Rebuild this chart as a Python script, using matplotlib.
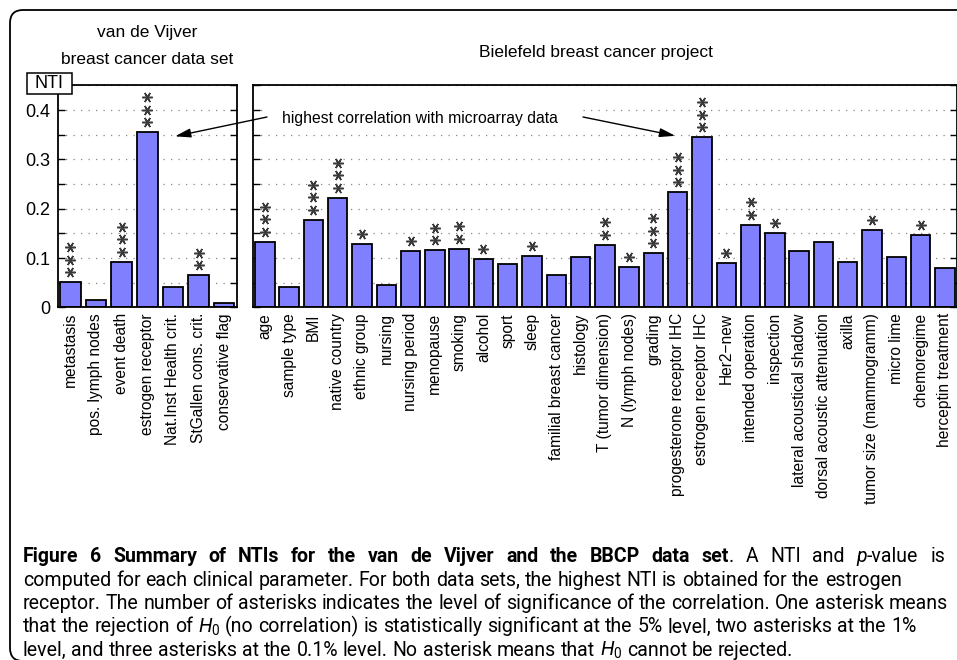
import numpy as np
import matplotlib
matplotlib.use('Agg')
import matplotlib.pyplot as plt
import matplotlib.patches as mpatches
import matplotlib.transforms as mtransforms

plt.rcParams['font.family'] = ['Liberation Sans', 'DejaVu Sans']
plt.rcParams['mathtext.fontset'] = 'custom'
plt.rcParams['mathtext.rm'] = 'Roboto'
plt.rcParams['mathtext.it'] = 'Roboto:italic'
plt.rcParams['mathtext.bf'] = 'Roboto:bold'

# van de Vijver data set
vdv_labels = ['metastasis', 'pos. lymph nodes', 'event death', 'estrogen receptor',
              'Nat.Inst Health crit.', 'StGallen cons. crit.', 'conservative flag']
vdv_nti = [0.051, 0.016, 0.093, 0.355, 0.041, 0.065, 0.010]
vdv_stars = [3, 0, 3, 3, 0, 2, 0]

# Bielefeld breast cancer project
bbcp_labels = ['age', 'sample type', 'BMI', 'native country', 'ethnic group', 'nursing',
               'nursing period', 'menopause', 'smoking', 'alcohol', 'sport', 'sleep',
               'familial breast cancer', 'histology', 'T (tumor dimension)', 'N (lymph nodes)',
               'grading', 'progesterone receptor IHC', 'estrogen receptor IHC', 'Her2\u2212new',
               'intended operation', 'inspection', 'lateral acoustical shadow',
               'dorsal acoustic attenuation', 'axilla', 'tumor size (mammogramm)', 'micro lime',
               'chemoregime', 'herceptin treatment']
bbcp_nti = [0.133, 0.041, 0.178, 0.222, 0.128, 0.045, 0.115, 0.116, 0.119, 0.099, 0.088, 0.104,
            0.065, 0.102, 0.127, 0.082, 0.110, 0.234, 0.345, 0.090, 0.168, 0.152, 0.114, 0.132,
            0.093, 0.157, 0.102, 0.146, 0.080]
bbcp_stars = [3, 0, 3, 3, 1, 0, 1, 2, 2, 1, 0, 1, 0, 0, 2, 1, 3, 3, 3, 1, 2, 1, 0, 0, 0, 1, 0, 1, 0]

W, H = 957, 660
fig = plt.figure(figsize=(W / 100, H / 100), dpi=100)


def px_rect(x0, y0, x1, y1):
    return [x0 / W, 1 - y1 / H, (x1 - x0) / W, (y1 - y0) / H]


ax1 = fig.add_axes(px_rect(57.5, 85.5, 237, 307.5))
ax2 = fig.add_axes(px_rect(252.7, 85.5, 957, 307.5))


def draw_panel(ax, labels, vals, stars, ylabels):
    x = np.arange(1, len(vals) + 1)
    ax.set_axisbelow(True)
    ax.bar(x, vals, width=0.8, color='#8080ff', edgecolor='black', linewidth=1.3, zorder=2)
    ax.set_xlim(0.5, len(vals) + 0.5)
    ax.set_ylim(0, 0.45)
    ax.set_xticks(x)
    ax.set_xticklabels(labels, rotation=90, fontsize=11.2)
    ax.tick_params(axis='x', length=0, pad=4)
    yt = np.round(np.arange(0, 0.451, 0.05), 2)
    ax.set_yticks(yt)
    if ylabels:
        ax.set_yticklabels(['0' if v == 0 else ('%.1f' % v if round(v * 10) == v * 10 else '')
                            for v in yt], fontsize=13)
    else:
        ax.set_yticklabels([])
    ax.tick_params(axis='y', direction='in', length=5, width=1, left=True, right=True, pad=5)
    ax.yaxis.grid(True, linestyle=(0, (1, 5)), color='#888888', linewidth=0.9)
    for sp in ax.spines.values():
        sp.set_linewidth(1.3)
    # significance asterisks stacked above the bars
    for k in range(1, 4):
        xs = [xi for xi, s in zip(x, stars) if s >= k]
        ys = [v for v, s in zip(vals, stars) if s >= k]
        if not xs:
            continue
        off = mtransforms.ScaledTranslation(0, (10 + 12.5 * (k - 1)) / 100, fig.dpi_scale_trans)
        ax.plot(xs, ys, linestyle='none', marker=(6, 2, 90), markersize=7.5,
                markeredgewidth=1.1, color='#3a3a3a', transform=ax.transData + off,
                clip_on=False, zorder=3)


draw_panel(ax1, vdv_labels, vdv_nti, vdv_stars, True)
draw_panel(ax2, bbcp_labels, bbcp_nti, bbcp_stars, False)

# titles
fig.text(147 / W, 1 - 33 / H, 'van de Vijver', ha='center', va='center', fontsize=12.5)
fig.text(147 / W, 1 - 59 / H, 'breast cancer data set', ha='center', va='center', fontsize=12.5)
fig.text(596 / W, 1 - 52 / H, 'Bielefeld breast cancer project', ha='center', va='center',
         fontsize=12.5)

# NTI box on the top left corner
ident = mtransforms.IdentityTransform()
fig.add_artist(mpatches.Rectangle((27, H - 94), 45, 21, transform=ident, facecolor='white',
                                  edgecolor='black', linewidth=1.1, zorder=5))
fig.text(49.5 / W, 1 - 84 / H, 'NTI', ha='center', va='center', fontsize=13, zorder=6)

# annotation with arrows to the estrogen receptor bars
ax2.add_patch(mpatches.Rectangle((267, H - 129), 316, 24, transform=ident, facecolor='white',
                                 edgecolor='none', zorder=1))
ax2.text(419.5, H - 118, 'highest correlation with microarray data', transform=ident,
         ha='center', va='center', fontsize=11.3, zorder=4)
i_l = vdv_labels.index('estrogen receptor')
i_r = bbcp_labels.index('estrogen receptor IHC')
aprops = dict(arrowstyle='-|>,head_length=0.95,head_width=0.27', mutation_scale=10,
              lw=1, color='black', shrinkA=0, shrinkB=0)
ax2.annotate('', xy=(i_l + 1 + 1.08, vdv_nti[i_l] - 0.008), xycoords=ax1.transData,
             xytext=(267, H - 117), textcoords='figure pixels', arrowprops=aprops,
             annotation_clip=False)
ax2.annotate('', xy=(i_r + 1 - 1.1, bbcp_nti[i_r] + 0.003), xycoords=ax2.transData,
             xytext=(583, H - 117), textcoords='figure pixels', arrowprops=aprops,
             annotation_clip=False)

# outer rounded frame (bottom edge falls just below the image)
fig.add_artist(mpatches.FancyBboxPatch((10, H - 661), 990, 651,
                                       boxstyle='round,pad=0,rounding_size=13',
                                       transform=ident, fill=False, edgecolor='black',
                                       linewidth=1.3, zorder=0))

# caption
r = fig.canvas.get_renderer()
cap_font = 'Roboto'
norm = dict(family=cap_font)
bold = dict(family=cap_font, weight='bold')
ital = dict(family=cap_font, style='italic')
lines = [
    [('Figure 6 Summary of NTIs for the van de Vijver and the BBCP data set', bold),
     ('. A NTI and ', norm), ('p', ital), ('-value is', norm)],
    [('computed for each clinical parameter. For both data sets, the highest NTI is obtained '
      'for the estrogen', norm)],
    [('receptor. The number of asterisks indicates the level of significance of the '
      'correlation. One asterisk means', norm)],
    [('that the rejection of ', norm), (r'$H_0$', norm),
     (' (no correlation) is statistically significant at the 5% level, two asterisks at the 1%',
      norm)],
    [('level, and three asterisks at the 0.1% level. No asterisk means that ', norm),
     (r'$H_0$', norm), (' cannot be rejected.', norm)],
]
baselines = [562, 585.5, 609, 632.5, 655.5]
justify_to = [945, None, None, None, None]

t = fig.text(0, 0, lines[2][0][0], fontsize=12, **norm)
cap_size = 12 * 922 / t.get_window_extent(r).width
t.remove()
t1 = fig.text(0, 0, 'aa', fontsize=cap_size, **norm)
t2 = fig.text(0, 0, 'a a', fontsize=cap_size, **norm)
space_w = t2.get_window_extent(r).width - t1.get_window_extent(r).width
t1.remove()
t2.remove()


def tokens_of(runs):
    # words with a flag telling whether a space comes before them
    toks = []
    gap = False
    for s, kw in runs:
        parts = s.split(' ')
        for j, p in enumerate(parts):
            if j > 0:
                gap = True
            if p:
                toks.append((p, kw, gap))
                gap = False
    return toks


def width_of(s, kw):
    tt = fig.text(0, 0, s, fontsize=cap_size, **kw)
    w = tt.get_window_extent(r).width
    tt.remove()
    return w


x0 = 23
for runs, yb, jr in zip(lines, baselines, justify_to):
    toks = tokens_of(runs)
    gap_w = space_w
    if jr is not None:
        n_gaps = sum(1 for tk in toks if tk[2])
        natural = sum(width_of(p, kw) for p, kw, g in toks) + n_gaps * space_w
        gap_w = space_w + (jr - x0 - natural) / n_gaps
    xp = x0
    for p, kw, g in toks:
        if g:
            xp += gap_w
        tt = fig.text(xp / W, 1 - yb / H, p, fontsize=cap_size, ha='left', va='baseline', **kw)
        xp = tt.get_window_extent(r).x1

fig.savefig('out.png', dpi=100)
